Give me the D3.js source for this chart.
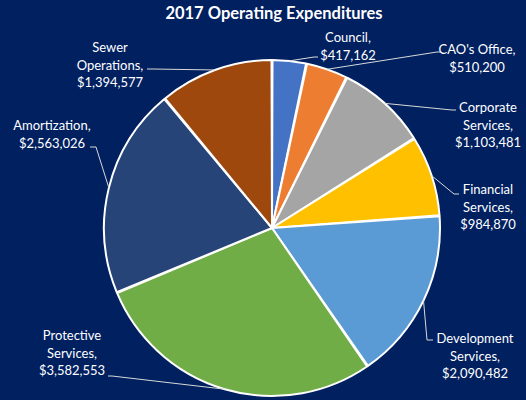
<!DOCTYPE html>
<html>
<head>
<meta charset="utf-8">
<script src="https://cdn.jsdelivr.net/npm/d3@7"></script>
<style>
  body { margin: 0; background: #002060; }
  svg { display: block; }
</style>
</head>
<body>
<div id="chart"></div>
<script>
const categories = ["Council", "CAO's Office", "Corporate Services", "Financial Services",
  "Development Services", "Protective Services", "Amortization", "Sewer Operations"];
const values = [417162, 510200, 1103481, 984870, 2090482, 3582553, 2563026, 1394577];
const colors = ["#4472C4", "#ED7D31", "#A5A5A5", "#FFC000", "#5B9BD5", "#70AD47", "#264478", "#9E480E"];

// label text lines (category split as in the picture)
const labelLines = [
  ["Council,"], ["CAO's Office,"], ["Corporate", "Services,"], ["Financial", "Services,"],
  ["Development", "Services,"], ["Protective", "Services,"], ["Amortization,"], ["Sewer", "Operations,"]
];

// layout: label centre x, first line y, and where the leader meets the text
const labelLayout = [
  { x: 348, y: 42, lx: 318, ly: 57, dx: -4 },
  { x: 477, y: 54, lx: 441, ly: 52, dx: -4 },
  { x: 488, y: 112, lx: 456, ly: 110, dx: -4 },
  { x: 488, y: 194, lx: 459, ly: 194, dx: -5 },
  { x: 475, y: 343, lx: 433, ly: 340, dx: -6 },
  { x: 72, y: 340, lx: 108, ly: 376, dx: 4 },
  { x: 52, y: 130, lx: 90, ly: 147, dx: 6 },
  { x: 110, y: 52, lx: 147, ly: 69, dx: 6 }
];

const W = 526, H = 400;
const cx = 272, cy = 228, R = 168;
const fmt = d3.format("$,");

const svg = d3.select("#chart").append("svg")
  .attr("width", W)
  .attr("height", H)
  .style("background", "#002060");

svg.append("text")
  .attr("x", 274)
  .attr("y", 19)
  .attr("text-anchor", "middle")
  .attr("fill", "#fff")
  .style("font-family", "Lato, 'Open Sans', sans-serif")
  .style("font-weight", "bold")
  .style("font-size", "16.5px")
  .text("2017 Operating Expenditures");

const pie = d3.pie().sort(null).value(d => d)(values);
const arc = d3.arc().innerRadius(0).outerRadius(R).padAngle(0.006).padRadius(R);

const g = svg.append("g").attr("transform", `translate(${cx},${cy})`);

g.selectAll("path.slice")
  .data(pie)
  .enter()
  .append("path")
  .attr("class", "slice")
  .attr("d", arc)
  .attr("fill", (d, i) => colors[i])
  .attr("stroke", "#fff")
  .attr("stroke-width", 2)
  .attr("stroke-linejoin", "round");

// leader lines
svg.selectAll("path.leader")
  .data(pie)
  .enter()
  .append("path")
  .attr("class", "leader")
  .attr("fill", "none")
  .attr("stroke", "#d9d9d9")
  .attr("stroke-width", 1)
  .attr("d", (d, i) => {
    const a = (d.startAngle + d.endAngle) / 2;
    const px = cx + R * Math.sin(a), py = cy - R * Math.cos(a);
    const L = labelLayout[i];
    return `M${px},${py}L${L.lx + L.dx},${L.ly}L${L.lx},${L.ly}`;
  });

const labels = svg.selectAll("text.lbl")
  .data(pie)
  .enter()
  .append("text")
  .attr("class", "lbl")
  .attr("text-anchor", "middle")
  .attr("fill", "#fff")
  .style("font-family", "Lato, 'Open Sans', sans-serif")
  .style("font-size", "13px");

labels.each(function (d, i) {
  const L = labelLayout[i];
  const lines = labelLines[i].concat([fmt(values[i])]);
  d3.select(this).selectAll("tspan")
    .data(lines)
    .enter()
    .append("tspan")
    .attr("x", L.x)
    .attr("y", (t, j) => L.y + j * 17.5)
    .text(t => t);
});
</script>
</body>
</html>
